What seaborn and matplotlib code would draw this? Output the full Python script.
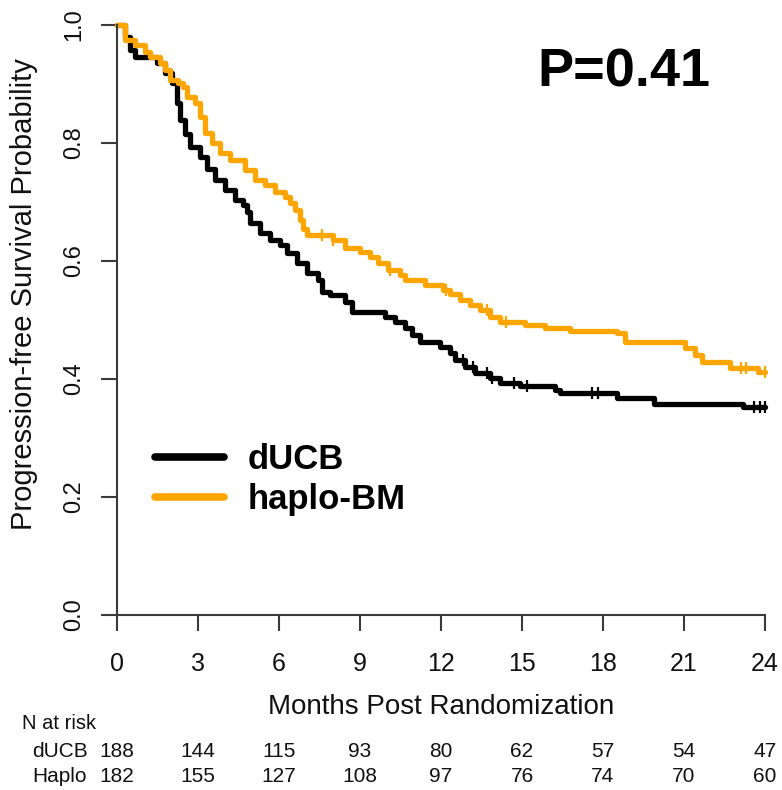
import numpy as np
import pandas as pd
import matplotlib
matplotlib.use("Agg")
import matplotlib.pyplot as plt
import matplotlib.transforms as mtransforms
from matplotlib.lines import Line2D
import seaborn as sns

# ---------------- data ----------------
months_ducb = [0, 0.30, 0.48, 0.67, 1.48, 1.78, 2.04, 2.22, 2.33, 2.50, 2.70, 3.07,
               3.35, 3.63, 4.00, 4.37, 4.67, 4.81, 4.93, 5.30, 5.67, 6.04, 6.30,
               6.67, 7.04, 7.44, 7.59, 7.89, 8.44, 8.70, 9.93, 10.30, 10.67, 10.93,
               11.22, 11.96, 12.33, 12.52, 12.89, 13.26, 13.81, 14.19, 14.93, 16.22,
               16.41, 18.50, 19.90, 23.20, 24.0]
surv_ducb = [1.0, 0.980, 0.958, 0.946, 0.936, 0.919, 0.902, 0.868, 0.839, 0.815,
             0.793, 0.776, 0.756, 0.737, 0.720, 0.703, 0.695, 0.683, 0.664, 0.647,
             0.636, 0.627, 0.614, 0.597, 0.580, 0.568, 0.547, 0.542, 0.531, 0.514,
             0.505, 0.497, 0.486, 0.475, 0.463, 0.454, 0.444, 0.432, 0.420, 0.410,
             0.402, 0.393, 0.388, 0.381, 0.376, 0.368, 0.358, 0.353, 0.353]

months_haplo = [0, 0.30, 0.67, 1.04, 1.22, 1.59, 1.78, 1.96, 2.26, 2.44, 2.59, 2.89,
                3.07, 3.26, 3.50, 3.81, 4.19, 4.74, 5.11, 5.48, 5.85, 6.22, 6.41,
                6.59, 6.78, 6.90, 7.04, 8.00, 8.44, 9.00, 9.37, 9.67, 10.04, 10.48,
                10.67, 11.41, 12.07, 12.33, 12.70, 13.07, 13.44, 13.81, 14.19, 15.11,
                15.85, 16.78, 18.52, 18.81, 21.04, 21.41, 21.67, 22.70, 23.74, 24.0]
surv_haplo = [1.0, 0.975, 0.966, 0.954, 0.946, 0.936, 0.924, 0.907, 0.902, 0.895,
              0.878, 0.868, 0.844, 0.817, 0.800, 0.783, 0.771, 0.754, 0.737, 0.729,
              0.717, 0.708, 0.698, 0.686, 0.669, 0.655, 0.644, 0.636, 0.622, 0.615,
              0.607, 0.597, 0.585, 0.576, 0.568, 0.559, 0.551, 0.544, 0.534, 0.525,
              0.517, 0.505, 0.497, 0.492, 0.486, 0.481, 0.478, 0.463, 0.453, 0.441,
              0.429, 0.419, 0.412, 0.412]

cens_ducb = [12.8, 13.2, 13.7, 13.9, 14.7, 15.2, 17.6, 17.8, 23.6, 23.8, 24.0]
cens_haplo = [7.6, 8.0, 10.1, 12.2, 13.7, 14.4, 23.1, 23.3, 24.0]

risk_times = [0, 3, 6, 9, 12, 15, 18, 21, 24]
risk_ducb = [188, 144, 115, 93, 80, 62, 57, 54, 47]
risk_haplo = [182, 155, 127, 108, 97, 76, 74, 70, 60]

arm_names = ["dUCB", "haplo-BM"]
risk_row_names = ["dUCB", "Haplo"]
arm_colors = ["#000000", "#FFA500"]
y_ticks = [0.0, 0.2, 0.4, 0.6, 0.8, 1.0]
p_text = "P=0.41"

# ---------------- styling ----------------
sns.set_style("ticks")
plt.rcParams["font.family"] = ["Liberation Sans", "DejaVu Sans"]
plt.rcParams["text.color"] = "#000000"
plt.rcParams["axes.labelcolor"] = "#111111"

W, H = 782, 790
fig = plt.figure(figsize=(W / 100, H / 100), dpi=100)
x0, x1, y0, y1 = 117, 765, 615, 25
ax = fig.add_axes([x0 / W, 1 - y0 / H, (x1 - x0) / W, (y0 - y1) / H])

df = pd.concat([
    pd.DataFrame({"month": months_ducb, "surv": surv_ducb, "arm": arm_names[0]}),
    pd.DataFrame({"month": months_haplo, "surv": surv_haplo, "arm": arm_names[1]}),
], ignore_index=True)
palette = dict(zip(arm_names, arm_colors))

sns.lineplot(data=df, x="month", y="surv", hue="arm", palette=palette,
             hue_order=arm_names, estimator=None, drawstyle="steps-post",
             linewidth=3.8, legend=False, ax=ax, clip_on=False)

# censoring marks
for times, months, surv, col in [(cens_ducb, months_ducb, surv_ducb, arm_colors[0]),
                                 (cens_haplo, months_haplo, surv_haplo, arm_colors[1])]:
    m = np.asarray(months)
    s = np.asarray(surv)
    idx = np.searchsorted(m, np.asarray(times), side="right") - 1
    ax.plot(times, s[idx], linestyle="none", marker="|", markersize=9,
            markeredgewidth=1.6, color=col, clip_on=False)

ax.set_xlim(0, 24)
ax.set_ylim(0, 1)
ax.set_xticks(risk_times)
ax.set_yticks(y_ticks)
ax.set_yticklabels([f"{v:.1f}" for v in y_ticks], rotation=90, va="center")
for sp in ["top", "right"]:
    ax.spines[sp].set_visible(False)
for sp in ["left", "bottom"]:
    ax.spines[sp].set_color("#3a3a3a")
    ax.spines[sp].set_linewidth(1.5)
ax.tick_params(axis="x", length=11.5, width=1.5, color="#3a3a3a", labelsize=18,
               pad=15, labelcolor="#111111")
ax.tick_params(axis="y", length=11.5, width=1.5, color="#3a3a3a", labelsize=17,
               pad=11.5, labelcolor="#111111")
ax.set_xlabel("Months Post Randomization", fontsize=20, labelpad=13)
ax.set_ylabel("Progression-free Survival Probability", fontsize=21)
ax.yaxis.set_label_coords(-0.1219, 0.544)
ax.grid(False)

# legend
handles = [Line2D([], [], color=c, lw=5.5, solid_capstyle="round") for c in arm_colors]
leg = ax.legend(handles, arm_names, loc="upper left", bbox_to_anchor=(0.0586, 0.291),
                frameon=False, borderpad=0, borderaxespad=0, handlelength=2.0,
                handletextpad=0.66, labelspacing=0.2,
                prop={"size": 25, "weight": "bold"})
for txt in leg.get_texts():
    txt.set_color("#000000")

# p-value
ax.text(0.648, 0.895, p_text, transform=ax.transAxes, ha="left", va="baseline",
        fontsize=39, fontweight="bold", color="#000000")

# number at risk table
tr = mtransforms.blended_transform_factory(ax.transData, fig.transFigure)
fig.text(22 / W, 1 - 729 / H, "N at risk", ha="left", va="baseline", fontsize=14.5,
         color="#111111")
for row_name, vals, ypx in [(risk_row_names[0], risk_ducb, 757),
                            (risk_row_names[1], risk_haplo, 782)]:
    fig.text(32 / W, 1 - ypx / H, row_name, ha="left", va="baseline", fontsize=15,
             color="#111111")
    for t, n in zip(risk_times, vals):
        ax.text(t, 1 - ypx / H, str(n), transform=tr, ha="center", va="baseline",
                fontsize=15, color="#111111")

fig.savefig("out.png", dpi=100, facecolor="white")
